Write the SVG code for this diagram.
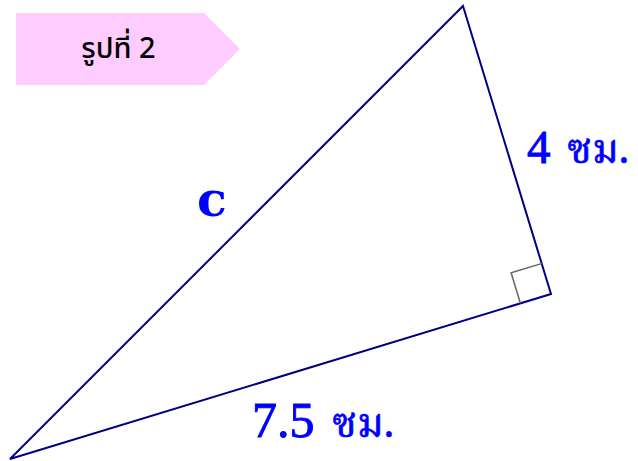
<svg xmlns="http://www.w3.org/2000/svg" width="638" height="461" viewBox="0 0 638 461">
<style>
.lbl{font-family:"Liberation Serif","Noto Serif Thai","Noto Sans Thai",serif;fill:#0000ff;stroke:#0000ff;stroke-width:0.9}
.th{font-family:"Noto Serif Thai","Noto Sans Thai","DejaVu Serif",serif;font-weight:normal;stroke-width:0.6}
.edge{fill:none;stroke:#000080;stroke-width:2;stroke-linejoin:miter}
</style>
<rect width="638" height="461" fill="#ffffff"/>
<g id="banner">
<polygon points="16,13 204,13 240,49 204,85 16,85" fill="#ffccff"/>
<text x="118.5" y="58" font-family="'Noto Sans','Noto Sans Thai',sans-serif" font-size="29" font-weight="500" text-anchor="middle" fill="#000000">รูปที่ 2</text>
</g>
<g id="connectors">
<polygon class="edge" points="463,6 551,294 10,459"/>
<polyline points="542.3,263.4 511.1,272.7 520.4,303.3" fill="none" stroke="#666666" stroke-width="1.5"/>
</g>
<g id="labels">
<text class="lbl" x="527" y="163" font-size="47">4<tspan class="th" x="567" font-size="41">ซม.</tspan></text>
<text x="197" y="216" font-size="49" font-family="'DejaVu Serif',serif" font-weight="bold" fill="#0000ff">c</text>
<text class="lbl" x="252" y="437" font-size="50">7.5<tspan class="th" x="332" font-size="41">ซม.</tspan></text>
</g>
</svg>
